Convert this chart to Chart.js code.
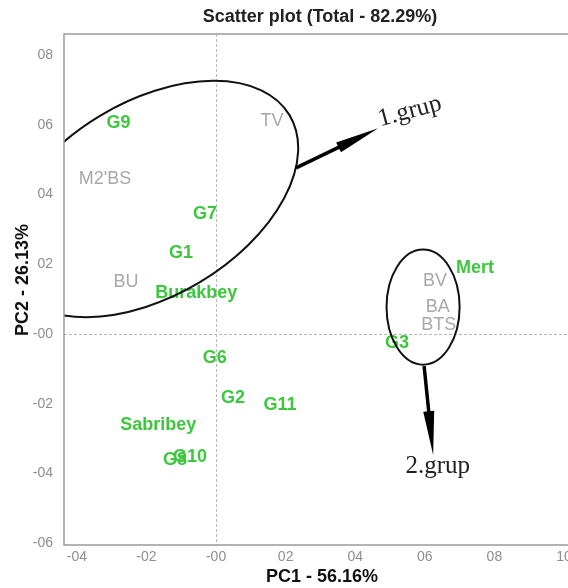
<!DOCTYPE html>
<html><head><meta charset="utf-8">
<script src="https://cdn.jsdelivr.net/npm/chart.js@4/dist/chart.umd.min.js"></script>
<style>html,body{margin:0;padding:0;overflow:hidden;background:#fff}#wrap{width:580px;height:588px;position:relative}</style>
</head><body><div id="wrap"><canvas id="c"></canvas></div>
<script>
// Genotypes (green labels)
const genotypes = ['G9','G7','G1','Burakbey','Mert','G3','G6','G2','G11','Sabribey','G8','G10'];
const genoPC1 = [-0.28,-0.032,-0.101,-0.057,0.744,0.520,-0.004,0.049,0.184,-0.166,-0.118,-0.075];
const genoPC2 = [0.605,0.345,0.232,0.118,0.189,-0.026,-0.069,-0.184,-0.203,-0.261,-0.361,-0.354];
// Traits (grey labels)
const traits = ['TV',"M2'BS",'BU','BV','BA','BTS'];
const traitPC1 = [0.161,-0.319,-0.259,0.629,0.637,0.640];
const traitPC2 = [0.610,0.443,0.149,0.152,0.078,0.025];
// Axis ticks
const xTickValues = [-0.4,-0.2,0,0.2,0.4,0.6,0.8,1.0];
const xTickLabels = ['-04','-02','-00','02','04','06','08','10'];
const yTickValues = [-0.6,-0.4,-0.2,0,0.2,0.4,0.6,0.8];
const yTickLabels = ['-06','-04','-02','-00','02','04','06','08'];
// Group annotations
const groupNames = ['1.grup','2.grup'];

const GREEN = '#3cc83c', GREY = '#a8a8a8';
const SANS = '"Liberation Sans", Arial, sans-serif';

const labelPlugin = {
  id:'labels',
  afterDatasetsDraw(chart){
    const ctx = chart.ctx;
    chart.data.datasets.forEach((ds,i)=>{
      const meta = chart.getDatasetMeta(i);
      ctx.save();
      ctx.fillStyle = ds.labelColor;
      ctx.font = ds.labelFont;
      ctx.textAlign='center'; ctx.textBaseline='middle';
      meta.data.forEach((el,j)=>{ ctx.fillText(ds.names[j], el.x, el.y); });
      ctx.restore();
    });
  }
};

const decoPlugin = {
  id:'deco',
  beforeDatasetsDraw(chart){
    const {ctx, chartArea:a, scales:{x,y}} = chart;
    ctx.save();
    ctx.strokeStyle='#b8b8b8'; ctx.lineWidth=1; ctx.setLineDash([3,2]);
    const x0=Math.round(x.getPixelForValue(0))+0.5, y0=Math.round(y.getPixelForValue(0))+0.5;
    ctx.beginPath(); ctx.moveTo(x0,a.top); ctx.lineTo(x0,a.bottom); ctx.stroke();
    ctx.beginPath(); ctx.moveTo(a.left,y0); ctx.lineTo(a.right,y0); ctx.stroke();
    ctx.restore();
  },
  afterDatasetsDraw(chart){
    const {ctx, chartArea:a, scales:{x,y}} = chart;
    const px = v=>x.getPixelForValue(v), py=v=>y.getPixelForValue(v);
    ctx.save();
    ctx.beginPath(); ctx.rect(a.left,a.top,a.right-a.left,a.bottom-a.top); ctx.clip();
    ctx.strokeStyle='#111'; ctx.lineWidth=2;
    // group 1 ellipse
    ctx.beginPath();
    ctx.ellipse(px(-0.190), py(0.387), px(-0.190+0.468)-px(-0.190), px(-0.190+0.279)-px(-0.190), -31*Math.PI/180, 0, 2*Math.PI);
    ctx.stroke();
    // group 2 ellipse
    ctx.beginPath();
    ctx.ellipse(px(0.595), py(0.077), px(0.700)-px(0.595), py(0.077)-py(0.242), 0, 0, 2*Math.PI);
    ctx.stroke();
    // arrows
    function arrow(x1,y1,x2,y2){
      const X1=px(x1),Y1=py(y1),X2=px(x2),Y2=py(y2);
      const ang=Math.atan2(Y2-Y1,X2-X1), L=44, W=5.5;
      const bx=X2-L*Math.cos(ang), by=Y2-L*Math.sin(ang);
      ctx.strokeStyle='#000'; ctx.lineWidth=3.5; ctx.setLineDash([]);
      ctx.beginPath(); ctx.moveTo(X1,Y1); ctx.lineTo(bx+ (L*0.3)*Math.cos(ang), by+(L*0.3)*Math.sin(ang)); ctx.stroke();
      ctx.fillStyle='#000';
      ctx.beginPath();
      ctx.moveTo(X2,Y2);
      ctx.lineTo(bx - W*Math.sin(ang), by + W*Math.cos(ang));
      ctx.lineTo(bx + W*Math.sin(ang), by - W*Math.cos(ang));
      ctx.closePath(); ctx.fill();
    }
    arrow(0.230,0.476,0.466,0.590);
    arrow(0.598,-0.092,0.624,-0.347);
    ctx.fillStyle='#222';
    ctx.font='25px "Liberation Serif", serif';
    ctx.textAlign='center'; ctx.textBaseline='middle';
    ctx.save(); ctx.translate(px(0.557),py(0.638)); ctx.rotate(-15*Math.PI/180); ctx.fillText(groupNames[0],0,0); ctx.restore();
    ctx.fillText(groupNames[1], px(0.637), py(-0.381));
    ctx.restore();
    // frame
    ctx.save();
    ctx.strokeStyle='#9a9a9a'; ctx.lineWidth=1.5;
    ctx.beginPath();
    ctx.moveTo(a.right,a.top); ctx.lineTo(a.left,a.top); ctx.lineTo(a.left,a.bottom); ctx.lineTo(a.right,a.bottom);
    ctx.stroke();
    ctx.restore();
  },
  afterDraw(chart){
    const ctx=chart.ctx;
    ctx.save();
    ctx.fillStyle='#222'; ctx.font='bold 18px '+SANS;
    ctx.textAlign='center'; ctx.textBaseline='middle';
    ctx.fillText('Scatter plot (Total - 82.29%)', 320, 17);
    ctx.translate(23, 280); ctx.rotate(-Math.PI/2);
    ctx.fillStyle='#111';
    ctx.fillText('PC2 - 26.13%', 0, 0);
    ctx.restore();
  }
};

new Chart(document.getElementById('c'), {
  type:'scatter',
  data:{ datasets:[
    {label:'Genotypes', names:genotypes, labelColor:GREEN, labelFont:'bold 18px '+SANS,
     data:genotypes.map((n,i)=>({x:genoPC1[i], y:genoPC2[i]})), pointRadius:0},
    {label:'Traits', names:traits, labelColor:GREY, labelFont:'18px '+SANS,
     data:traits.map((n,i)=>({x:traitPC1[i], y:traitPC2[i]})), pointRadius:0}
  ]},
  options:{
    responsive:true, maintainAspectRatio:false, animation:false,
    layout:{padding:{top:34,left:0,right:0,bottom:0}},
    plugins:{legend:{display:false}, tooltip:{enabled:false}},
    scales:{
      x:{type:'linear', min:-0.437, max:1.046,
        afterBuildTicks(s){ s.ticks = xTickValues.map(v=>({value:v})); },
        afterFit(s){ s.height=43; },
        grid:{display:false, drawTicks:false}, border:{display:false},
        ticks:{padding:4, color:'#8e8e8e', font:{size:14, family:SANS},
          callback:(v,i)=>xTickLabels[i]},
        title:{display:true, text:'PC1 - 56.16%', color:'#111', padding:{top:0,bottom:0},
          font:{size:18, weight:'bold', family:SANS}}
      },
      y:{type:'linear', min:-0.605, max:0.860,
        afterBuildTicks(s){ s.ticks = yTickValues.map(v=>({value:v})); },
        afterFit(s){ s.width=64; },
        grid:{display:false, drawTicks:false}, border:{display:false},
        ticks:{padding:11, color:'#8e8e8e', font:{size:14, family:SANS},
          callback:(v,i)=>yTickLabels[i]},
        title:{display:false}
      }
    }
  },
  plugins:[labelPlugin, decoPlugin]
});
</script></body></html>
